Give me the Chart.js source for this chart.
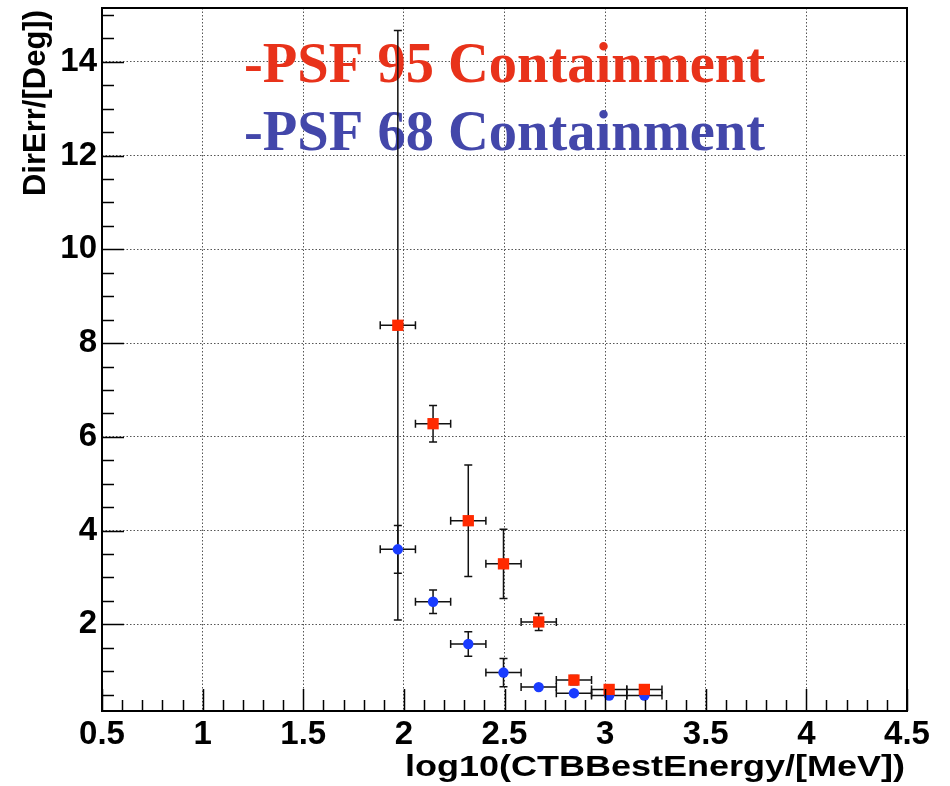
<!DOCTYPE html>
<html lang="en">
<head>
    <meta charset="UTF-8">
    <title>DirErr vs log10(CTBBestEnergy)</title>
    <script src="https://cdn.jsdelivr.net/npm/chart.js@4.4.1/dist/chart.umd.min.js"></script>
    <style>
        body { margin: 0; background: #fff; }
        #wrap { width: 950px; height: 786px; }
    </style>
</head>
<body>
    <div id="wrap"><canvas id="psf" width="950" height="786"></canvas></div>
    <script>
        // Energy bins (log10 MeV) and their half widths
        const energyBins = [1.97, 2.145, 2.32, 2.495, 2.67, 2.845, 3.02, 3.195];
        const energyHalfWidth = [0.0875, 0.0875, 0.0875, 0.0875, 0.0875, 0.0875, 0.0875, 0.0875];

        // 95% containment radius (deg) and errors
        const psf95 = [8.38, 6.28, 4.21, 3.29, 2.05, 0.81, 0.61, 0.61];
        const psf95Err = [6.29, 0.39, 1.19, 0.74, 0.18, 0.10, 0.03, 0.02];

        // 68% containment radius (deg) and errors
        const psf68 = [3.60, 2.48, 1.58, 0.97, 0.66, 0.53, 0.48, 0.48];
        const psf68Err = [0.51, 0.25, 0.26, 0.30, 0.03, 0.02, 0.02, 0.02];

        const xTicks = [0.5, 1, 1.5, 2, 2.5, 3, 3.5, 4, 4.5];
        const yTicks = [2, 4, 6, 8, 10, 12, 14];

        const legendLines = [
            { text: '-PSF 95 Containment', color: '#e8321a' },
            { text: '-PSF 68 Containment', color: '#4347aa' }
        ];

        const tickFont = { family: "'Liberation Sans', Arial, sans-serif", size: 33, weight: 'bold' };

        function toPoints(xs, ys, xe, ye) {
            return xs.map((x, i) => ({ x: x, y: ys[i], xErr: xe[i], yErr: ye[i] }));
        }

        // legend text, error bars, frame and ROOT-style inner ticks
        const rootDecor = {
            id: 'rootDecor',
            beforeDatasetsDraw(chart) {
                const ctx = chart.ctx;
                const xs = chart.scales.x, ys = chart.scales.y;

                ctx.save();
                ctx.font = "bold 56.5px 'Liberation Serif', 'Times New Roman', serif";
                ctx.textAlign = 'left';
                ctx.textBaseline = 'alphabetic';
                legendLines.forEach((l, i) => {
                    ctx.fillStyle = l.color;
                    ctx.fillText(l.text, 244, 82 + i * 67.5);
                });
                ctx.restore();

                // error bars with end caps
                ctx.save();
                ctx.strokeStyle = '#111';
                ctx.lineWidth = 1.5;
                const cap = 4;
                chart.data.datasets.forEach(ds => {
                    ds.data.forEach(p => {
                        const px = xs.getPixelForValue(p.x);
                        const py = ys.getPixelForValue(p.y);
                        const x0 = xs.getPixelForValue(p.x - p.xErr);
                        const x1 = xs.getPixelForValue(p.x + p.xErr);
                        const y0 = ys.getPixelForValue(p.y - p.yErr);
                        const y1 = ys.getPixelForValue(p.y + p.yErr);
                        ctx.beginPath();
                        ctx.moveTo(x0, py); ctx.lineTo(x1, py);
                        ctx.moveTo(x0, py - cap); ctx.lineTo(x0, py + cap);
                        ctx.moveTo(x1, py - cap); ctx.lineTo(x1, py + cap);
                        ctx.moveTo(px, y0); ctx.lineTo(px, y1);
                        ctx.moveTo(px - cap, y0); ctx.lineTo(px + cap, y0);
                        ctx.moveTo(px - cap, y1); ctx.lineTo(px + cap, y1);
                        ctx.stroke();
                    });
                });
                ctx.restore();
            },
            afterDraw(chart) {
                const ctx = chart.ctx;
                const a = chart.chartArea;
                const xs = chart.scales.x, ys = chart.scales.y;
                ctx.save();
                ctx.strokeStyle = '#000';
                ctx.lineWidth = 1.5;

                // x ticks: major every 0.5, minor every 0.1
                ctx.beginPath();
                for (let k = 5; k <= 45; k++) {
                    const v = k / 10;
                    const px = Math.round(xs.getPixelForValue(v)) + 0.5;
                    const len = (k % 5 === 0) ? 22 : 11;
                    ctx.moveTo(px, a.bottom);
                    ctx.lineTo(px, a.bottom - len);
                }
                // y ticks: major every 2, minor every 0.5
                for (let k = 1; k <= 30; k++) {
                    const v = k / 2;
                    if (v < ys.min || v > ys.max) continue;
                    const py = Math.round(ys.getPixelForValue(v)) + 0.5;
                    const len = (k % 4 === 0) ? 22 : 12;
                    ctx.moveTo(a.left, py);
                    ctx.lineTo(a.left + len, py);
                }
                ctx.stroke();

                ctx.lineWidth = 2;
                ctx.strokeRect(a.left, a.top, a.right - a.left, a.bottom - a.top);

                // axis titles
                ctx.fillStyle = '#000';
                ctx.font = "bold 30px 'Liberation Sans', Arial, sans-serif";
                ctx.save();
                ctx.translate(905, 776);
                ctx.scale(1.2, 1);
                ctx.textAlign = 'right';
                ctx.textBaseline = 'alphabetic';
                ctx.fillText('log10(CTBBestEnergy/[MeV])', 0, 0);
                ctx.restore();

                ctx.save();
                ctx.font = "bold 31px 'Liberation Sans', Arial, sans-serif";
                ctx.translate(45, 10);
                ctx.rotate(-Math.PI / 2);
                ctx.textAlign = 'right';
                ctx.textBaseline = 'alphabetic';
                ctx.fillText('DirErr/[Deg])', 0, 0);
                ctx.restore();

                ctx.restore();
            }
        };

        new Chart(document.getElementById('psf'), {
            type: 'scatter',
            data: {
                datasets: [
                    {
                        label: 'PSF 95',
                        data: toPoints(energyBins, psf95, energyHalfWidth, psf95Err),
                        pointStyle: 'rect',
                        pointRadius: 8,
                        pointHoverRadius: 8,
                        backgroundColor: '#ff2a00',
                        borderColor: '#ff2a00',
                        borderWidth: 0
                    },
                    {
                        label: 'PSF 68',
                        data: toPoints(energyBins, psf68, energyHalfWidth, psf68Err),
                        pointStyle: 'circle',
                        pointRadius: 5.2,
                        pointHoverRadius: 5.2,
                        backgroundColor: '#1a3cff',
                        borderColor: '#1a3cff',
                        borderWidth: 0
                    }
                ]
            },
            options: {
                responsive: false,
                animation: false,
                layout: { padding: { top: 8, right: 43, left: 0, bottom: 0 } },
                plugins: {
                    legend: { display: false },
                    tooltip: { enabled: false }
                },
                scales: {
                    x: {
                        type: 'linear',
                        min: 0.5,
                        max: 4.5,
                        afterBuildTicks: s => { s.ticks = xTicks.map(v => ({ value: v })); },
                        afterFit: s => { s.height = 75; s.paddingLeft = 0; s.paddingRight = 0; },
                        grid: {
                            color: '#555',
                            lineWidth: 1,
                            drawTicks: false
                        },
                        border: { display: false, dash: [1.5, 2] },
                        ticks: {
                            font: tickFont,
                            color: '#000',
                            padding: 4,
                            maxRotation: 0,
                            autoSkip: false,
                            callback: v => String(v)
                        }
                    },
                    y: {
                        type: 'linear',
                        min: 0.15,
                        max: 15.15,
                        afterBuildTicks: s => { s.ticks = yTicks.map(v => ({ value: v })); },
                        afterFit: s => { s.width = 102; s.paddingTop = 0; s.paddingBottom = 0; },
                        grid: {
                            color: '#555',
                            lineWidth: 1,
                            drawTicks: false
                        },
                        border: { display: false, dash: [1.5, 2] },
                        ticks: {
                            font: tickFont,
                            color: '#000',
                            padding: 5,
                            autoSkip: false,
                            callback: v => String(v)
                        }
                    }
                }
            },
            plugins: [rootDecor]
        });
    </script>
</body>
</html>
